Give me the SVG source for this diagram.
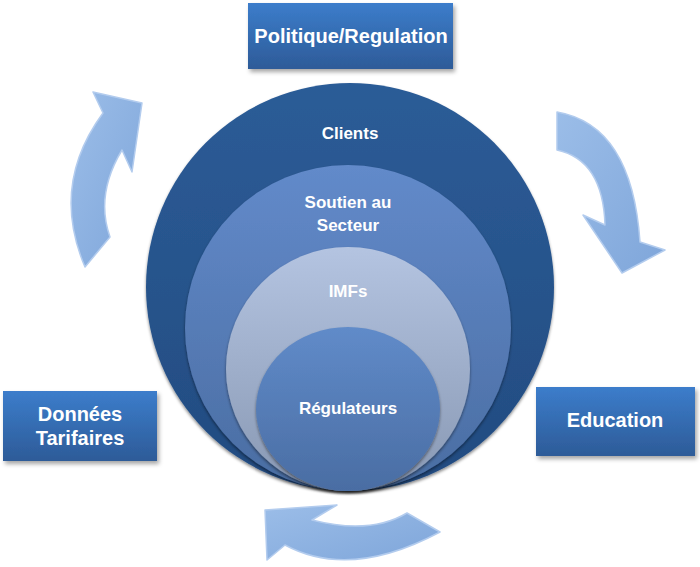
<svg xmlns="http://www.w3.org/2000/svg" width="700" height="567" viewBox="0 0 700 567">
<defs>
<linearGradient id="gBox" x1="0" y1="0" x2="0" y2="1"><stop offset="0" stop-color="#3C7DCB"/><stop offset="1" stop-color="#2D5B98"/></linearGradient>
<linearGradient id="gOuter" x1="0" y1="0" x2="0" y2="1"><stop offset="0" stop-color="#2C5C97"/><stop offset="1" stop-color="#224B80"/></linearGradient>
<linearGradient id="gSout" x1="0" y1="0" x2="0" y2="1"><stop offset="0" stop-color="#628ACA"/><stop offset="1" stop-color="#4A6DA2"/></linearGradient>
<linearGradient id="gImf" x1="0" y1="0" x2="0" y2="1"><stop offset="0" stop-color="#B4C4E1"/><stop offset="1" stop-color="#8898B3"/></linearGradient>
<linearGradient id="gReg" x1="0" y1="0" x2="0" y2="1"><stop offset="0" stop-color="#608BC9"/><stop offset="1" stop-color="#4A6DA3"/></linearGradient>
<linearGradient id="gArr" x1="0" y1="0" x2="1" y2="1"><stop offset="0" stop-color="#9BBDE8"/><stop offset="1" stop-color="#7FA6DA"/></linearGradient>
<filter id="sh" x="-20%" y="-20%" width="140%" height="140%"><feDropShadow dx="2" dy="3" stdDeviation="2" flood-color="#000" flood-opacity="0.35"/></filter>
<filter id="csh" x="-20%" y="-20%" width="140%" height="140%"><feDropShadow dx="0" dy="2" stdDeviation="1.5" flood-color="#000" flood-opacity="0.45"/></filter>
</defs>
<style>
.box{fill:url(#gBox);filter:url(#sh)}
.lbl{font-family:"Liberation Sans",Arial,sans-serif;font-weight:bold;fill:#fff;text-anchor:middle}
.big{font-size:20px}
.sm{font-size:17px}
.arr{fill:url(#gArr);stroke:#B3CCEE;stroke-width:1.5;stroke-linejoin:round}
</style>
<g id="connectors">
<path class="arr" d="M93,92 L142,103 L132,172 L122,150 Q95,195 110,237 L85,267 Q50,185 103,113 Z"/>
<path class="arr" d="M557,112 Q632,125 640,242 L665,250 L622,273 L583,215 L605,225 Q603,160 557,150 Z"/>
<path class="arr" d="M265,510 L337,505 L312,520 Q370,535 407,513 L440,532 Q350,580 285,545 L267,560 Z"/>
</g>
<g id="clients">
<circle cx="350" cy="287" r="204" fill="url(#gOuter)" filter="url(#csh)"/>
<text class="lbl sm" x="350" y="139">Clients</text>
</g>
<g id="soutien">
<circle cx="348" cy="328" r="163" fill="url(#gSout)" filter="url(#csh)"/>
<text class="lbl sm" x="348" y="208">Soutien au</text>
<text class="lbl sm" x="348" y="231">Secteur</text>
</g>
<g id="imfs">
<circle cx="348" cy="369" r="122" fill="url(#gImf)" filter="url(#csh)"/>
<text class="lbl sm" x="348" y="297">IMFs</text>
</g>
<g id="regulateurs">
<ellipse cx="348" cy="409" rx="92" ry="82" fill="url(#gReg)" filter="url(#csh)"/>
<text class="lbl sm" x="348" y="414">Régulateurs</text>
</g>
<g id="politique">
<rect class="box" x="248" y="3" width="205" height="66"/>
<text class="lbl big" x="351" y="43">Politique/Regulation</text>
</g>
<g id="donnees">
<rect class="box" x="3" y="391" width="154" height="70"/>
<text class="lbl big" x="80" y="421">Données</text>
<text class="lbl big" x="80" y="445">Tarifaires</text>
</g>
<g id="education">
<rect class="box" x="536" y="387" width="159" height="69"/>
<text class="lbl big" x="615" y="427">Education</text>
</g>
</svg>
